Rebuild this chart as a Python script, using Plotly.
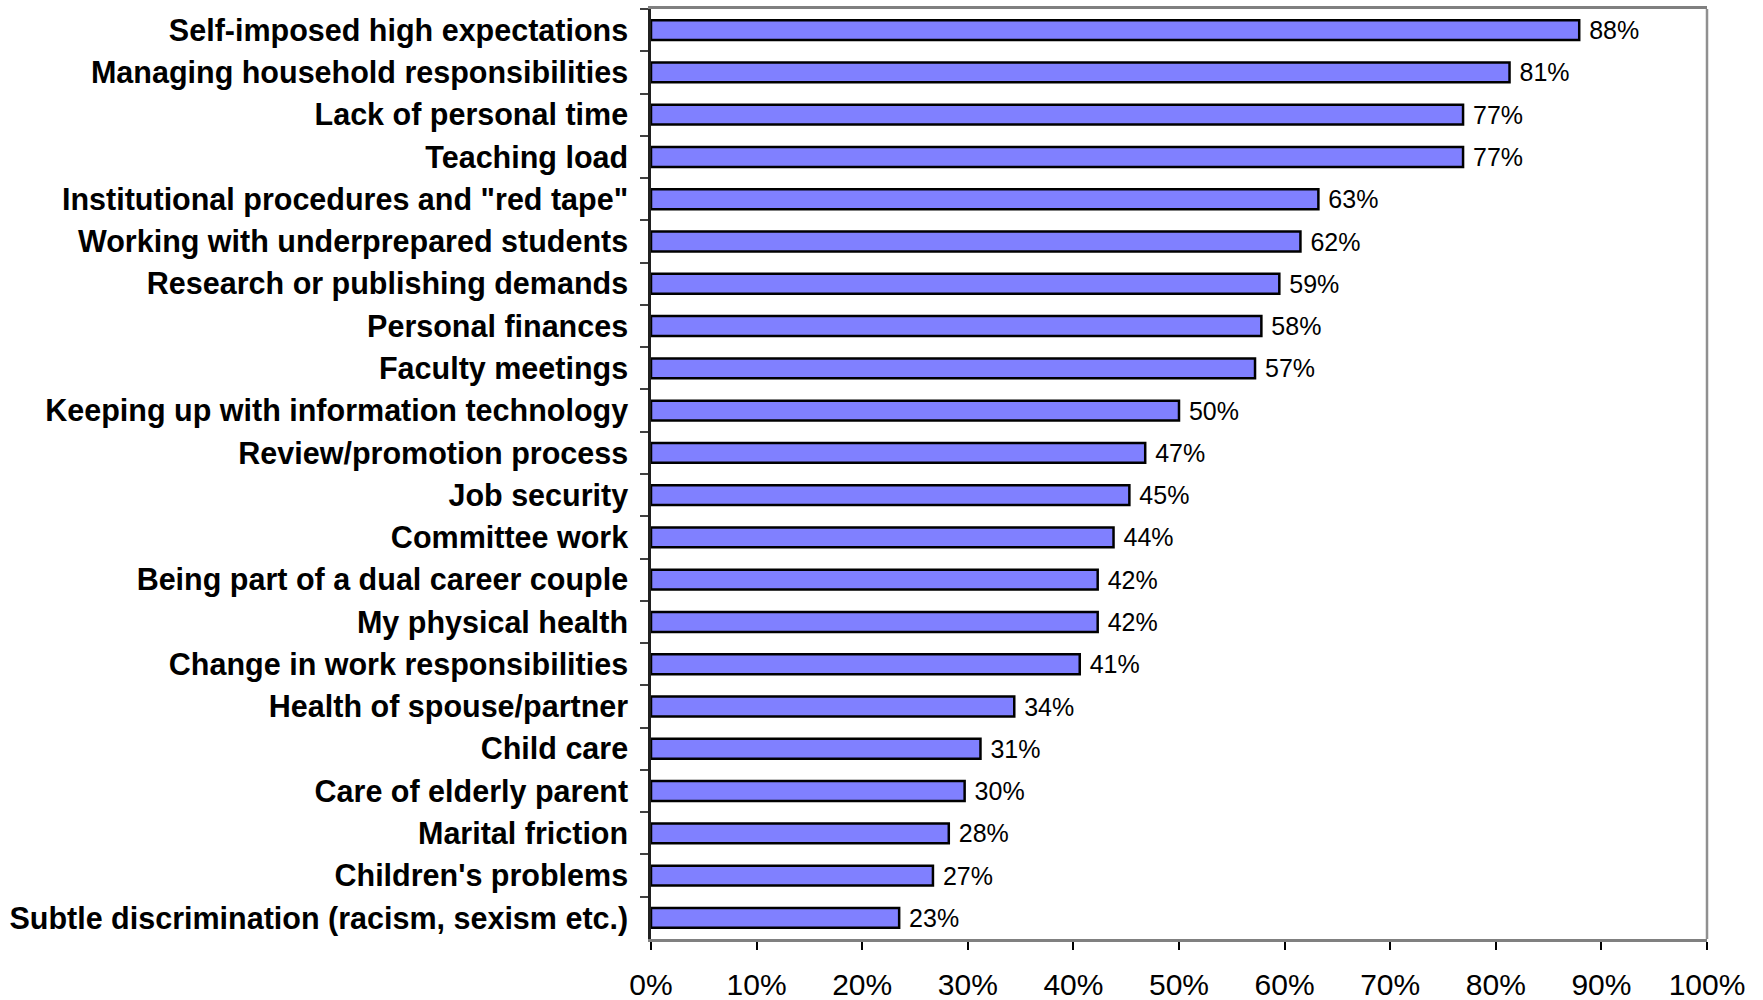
import plotly.graph_objects as go

categories = [
    "Self-imposed high expectations",
    "Managing household responsibilities",
    "Lack of personal time",
    "Teaching load",
    "Institutional procedures and \"red tape\"",
    "Working with underprepared students",
    "Research or publishing demands",
    "Personal finances",
    "Faculty meetings",
    "Keeping up with information technology",
    "Review/promotion process",
    "Job security",
    "Committee work",
    "Being part of a dual career couple",
    "My physical health",
    "Change in work responsibilities",
    "Health of spouse/partner",
    "Child care",
    "Care of elderly parent",
    "Marital friction",
    "Children's problems",
    "Subtle discrimination (racism, sexism etc.)",
]
values = [87.9, 81.3, 76.9, 76.9, 63.2, 61.5, 59.5, 57.8, 57.2, 50.0, 46.8,
          45.3, 43.8, 42.3, 42.3, 40.6, 34.4, 31.2, 29.7, 28.2, 26.7, 23.5]
labels = ["88%", "81%", "77%", "77%", "63%", "62%", "59%", "58%", "57%", "50%", "47%",
          "45%", "44%", "42%", "42%", "41%", "34%", "31%", "30%", "28%", "27%", "23%"]

FONT = "Liberation Sans, Arial, Helvetica, sans-serif"

fig = go.Figure(go.Bar(
    x=values, y=categories, orientation="h",
    marker=dict(color="#8080FF", line=dict(color="#000000", width=2.5)),
    text=labels, texttemplate=" %{text}", textposition="outside",
    constraintext="none",
    textfont=dict(family=FONT, size=25, color="#000000"),
    cliponaxis=False, hoverinfo="skip",
))

fig.update_layout(
    width=1763, height=1000,
    margin=dict(l=651, r=56, t=9, b=61, pad=0),
    paper_bgcolor="white", plot_bgcolor="white",
    bargap=0.53, showlegend=False,
    font=dict(family=FONT, color="#000000"),
    shapes=[dict(type="line", xref="paper", yref="paper", x0=1, x1=1, y0=0, y1=1,
                 line=dict(color="#909090", width=2.5))],
)
fig.update_xaxes(
    range=[0, 100], dtick=10, ticksuffix="%", showgrid=False, zeroline=False,
    showline=True, linecolor="#808080", linewidth=2.5, mirror=True,
    ticks="outside", ticklen=8, tickwidth=1.5, tickcolor="#000000",
    tickfont=dict(family=FONT, size=30, color="#000000"), ticklabelstandoff=9,
    automargin=False,
)
fig.update_yaxes(
    autorange="reversed", tickson="boundaries", showgrid=False,
    showline=True, linecolor="#202020", linewidth=2.5,
    ticks="outside", ticklen=8, tickwidth=1.5, tickcolor="#404040",
    tickfont=dict(family=FONT, size=30.5, color="#000000", weight="bold"),
    ticklabelstandoff=14, automargin=False,
)

fig.write_html("out.html", config={"displayModeBar": False},
               post_script="document.body.style.margin='0';")
